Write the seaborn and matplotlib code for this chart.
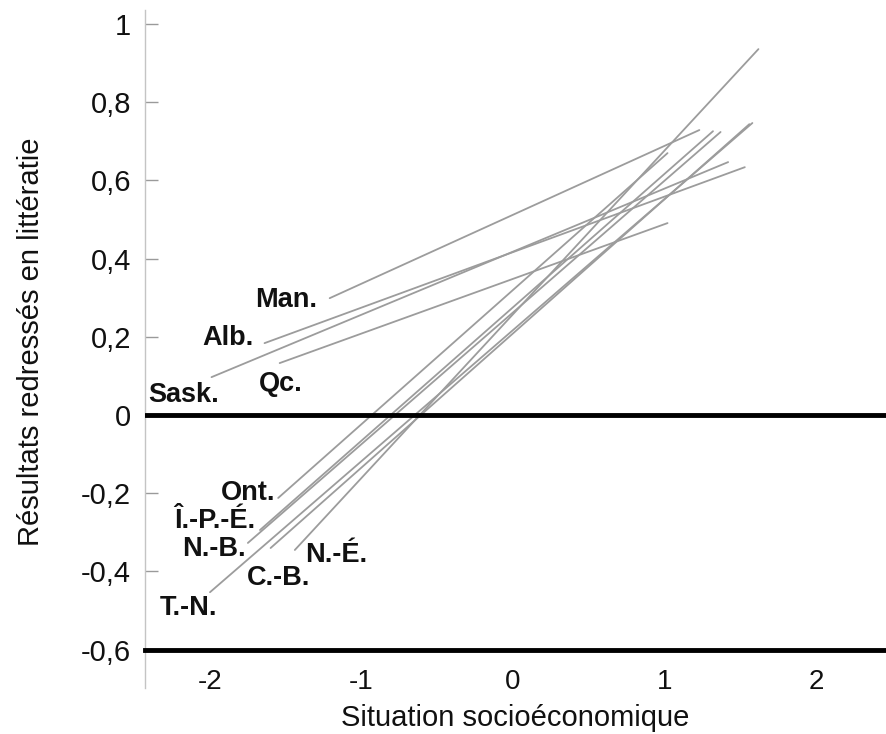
import matplotlib
matplotlib.use("Agg")
import matplotlib.pyplot as plt
import seaborn as sns
import pandas as pd

# ---- data ----
provinces = ["Man.", "Alb.", "Sask.", "Qc.", "Ont.", "Î.-P.-É.", "N.-B.", "C.-B.", "N.-É.", "T.-N."]
ses_start = [-1.21, -1.64, -1.99, -1.54, -1.55, -1.67, -1.75, -1.60, -1.44, -2.00]
ses_end = [1.23, 1.53, 1.42, 1.02, 1.02, 1.32, 1.37, 1.56, 1.62, 1.58]
score_start = [0.299, 0.184, 0.097, 0.133, -0.212, -0.294, -0.327, -0.340, -0.345, -0.453]
score_end = [0.729, 0.634, 0.647, 0.491, 0.670, 0.726, 0.724, 0.744, 0.936, 0.747]

y_ticks = [1, 0.8, 0.6, 0.4, 0.2, 0, -0.2, -0.4, -0.6]
y_tick_labels = ["1", "0,8", "0,6", "0,4", "0,2", "0", "-0,2", "-0,4", "-0,6"]
x_ticks = [-2, -1, 0, 1, 2]
x_tick_labels = ["-2", "-1", "0", "1", "2"]

# label anchor positions (left, baseline) in data units
label_pos = {
    "Man.": (-1.70, 0.276),
    "Alb.": (-2.05, 0.179),
    "Sask.": (-2.41, 0.033),
    "Qc.": (-1.68, 0.061),
    "Ont.": (-1.93, -0.217),
    "Î.-P.-É.": (-2.24, -0.288),
    "N.-B.": (-2.185, -0.360),
    "C.-B.": (-1.756, -0.435),
    "N.-É.": (-1.373, -0.376),
    "T.-N.": (-2.33, -0.512),
}

rows = []
for p, xs, xe, ys, ye in zip(provinces, ses_start, ses_end, score_start, score_end):
    rows.append({"province": p, "ses": xs, "score": ys})
    rows.append({"province": p, "ses": xe, "score": ye})
df = pd.DataFrame(rows)

sns.set_theme(style="white")
plt.rcParams["font.family"] = ["Liberation Sans", "DejaVu Sans"]

fig = plt.figure(figsize=(8.86, 7.34), dpi=100)
ax = fig.add_axes([145 / 886, 46 / 734, 741 / 886, 678 / 734])

sns.lineplot(data=df, x="ses", y="score", units="province", estimator=None,
             color="#9c9c9c", linewidth=1.3, ax=ax, legend=False)

ax.axhline(0, color="black", linewidth=3.5, zorder=3)

for p in provinces:
    lx, ly = label_pos[p]
    ax.text(lx, ly, p, fontsize=19.5, fontweight="bold", ha="left", va="baseline",
            color="#111111")

ax.set_xlim(-2.429, 2.462)
ax.set_ylim(-0.698, 1.036)

ax.spines["top"].set_visible(False)
ax.spines["right"].set_visible(False)
ax.spines["bottom"].set_position(("data", -0.6))
ax.spines["bottom"].set_linewidth(3.5)
ax.spines["bottom"].set_color("black")
ax.spines["left"].set_color("#c4c4c4")
ax.spines["left"].set_linewidth(1.0)

ax.set_yticks(y_ticks)
ax.set_yticklabels(y_tick_labels)
ax.set_xticks(x_ticks)
ax.set_xticklabels(x_tick_labels)
ax.tick_params(axis="y", direction="in", length=9, width=1, color="#9a9a9a",
               labelsize=21, pad=10, left=True, labelcolor="#111111")
ax.tick_params(axis="x", length=0, labelsize=20, pad=14, labelcolor="#111111")

ax.set_xlabel("Situation socioéconomique", fontsize=21, color="#111111")
ax.set_ylabel("Résultats redressés en littératie", fontsize=21, color="#111111")
ax.xaxis.set_label_coords(0.5, -0.024)
ax.yaxis.set_label_coords(-0.135, 0.51)

fig.savefig("out.png", dpi=100)
